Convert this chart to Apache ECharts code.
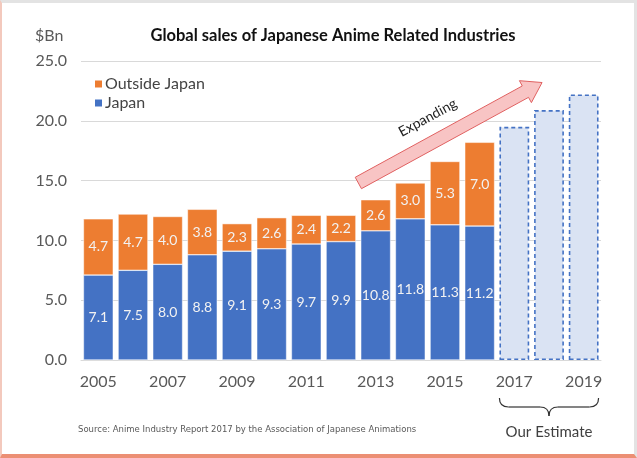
<!DOCTYPE html>
<html><head><meta charset="utf-8">
<script src="https://cdn.jsdelivr.net/npm/echarts@6/dist/echarts.min.js"></script>
<style>
html,body{margin:0;padding:0;background:#fff;}
#wrap{position:relative;width:637px;height:458px;}
#chart{position:absolute;left:0;top:0;width:637px;height:458px;}
#frame{position:absolute;left:0;top:0;width:637px;height:458px;box-sizing:border-box;pointer-events:none;
border-top:3px solid #e3e3e3;border-right:3px solid #e3e3e3;border-left:2px solid #f3c9bd;border-bottom:4px solid #ec8f74;}
</style></head>
<body><div id="wrap"><div id="chart"></div><div id="frame"></div></div>
<script>
var years = ['2005','2006','2007','2008','2009','2010','2011','2012','2013','2014','2015','2016','2017','2018','2019'];
var japan = [7.1, 7.5, 8.0, 8.8, 9.1, 9.3, 9.7, 9.9, 10.8, 11.8, 11.3, 11.2, null, null, null];
var outside = [4.7, 4.7, 4.0, 3.8, 2.3, 2.6, 2.4, 2.2, 2.6, 3.0, 5.3, 7.0, null, null, null];
var estimate = [null, null, null, null, null, null, null, null, null, null, null, null, 19.5, 20.9, 22.2];
var yTicks = [0, 5, 10, 15, 20, 25];
// arrow annotation in data coordinates: [category index, value]
var arrowFrom = [7.5, 14.8];
var arrowTo = [12.8, 23.2];

var FONT = 'Lato, "Open Sans", sans-serif';
var chart = echarts.init(document.getElementById('chart'));
var lbl = {show:true, position:'inside', color:'#f2f2f2', fontSize:14, fontFamily:FONT,
  formatter:function(p){return p.value==null?'':p.value.toFixed(1);}};
chart.setOption({
  animation:false,
  title:{text:'Global sales of Japanese Anime Related Industries', left:328, textAlign:'center', top:22,
    textStyle:{fontFamily:FONT, fontWeight:'bold', fontSize:16.5, color:'#111'}},
  legend:{left:88, top:71, orient:'vertical', itemGap:3, itemWidth:9, itemHeight:9, icon:'rect',
    data:['Outside Japan','Japan'], textStyle:{fontFamily:FONT, fontSize:16, color:'#444', padding:[0,0,0,-3]}},
  grid:{left:81, right:36, top:61, bottom:98},
  xAxis:{type:'category', data:years,
    axisLine:{lineStyle:{color:'#d9d9d9'}}, axisTick:{show:false},
    axisLabel:{interval:1, color:'#595959', fontSize:16, fontFamily:FONT, margin:14}},
  yAxis:{type:'value', min:yTicks[0], max:yTicks[yTicks.length-1], interval:5,
    axisLabel:{color:'#595959', fontSize:16, fontFamily:FONT, margin:14, formatter:function(v){return v.toFixed(1);}},
    splitLine:{lineStyle:{color:'#d9d9d9'}}},
  series:[
    {name:'Japan', type:'bar', stack:'t', data:japan, barCategoryGap:'14%',
      itemStyle:{color:'#4472c4', borderColor:'#fff', borderWidth:0.5}, label:lbl},
    {name:'Outside Japan', type:'bar', stack:'t', data:outside,
      itemStyle:{color:'#ed7d31', borderColor:'#fff', borderWidth:0.5}, label:lbl},
    {name:'Estimate', type:'bar', stack:'t', data:estimate,
      itemStyle:{color:'#dae3f3', borderColor:'#4472c4', borderWidth:1.6, borderType:[4,3]}}
  ]
});

function px(pt){
  var a = chart.convertToPixel({xAxisIndex:0}, 0);
  var b = chart.convertToPixel({xAxisIndex:0}, 1);
  var y = chart.convertToPixel({yAxisIndex:0}, pt[1]);
  return [a + (b-a)*pt[0], y];
}
var p0 = px(arrowFrom), p1 = px(arrowTo);
var dx = p1[0]-p0[0], dy = p1[1]-p0[1], L = Math.sqrt(dx*dx+dy*dy);
var ux = dx/L, uy = dy/L, nx = -uy, ny = ux;
var sw = 6.5, hw = 12.5, hl = 19;
function P(t, n){return [p0[0]+ux*t+nx*n, p0[1]+uy*t+ny*n];}
var arrowPts = [P(0,-sw), P(L-hl,-sw), P(L-hl,-hw), P(L,0), P(L-hl,hw), P(L-hl,sw), P(0,sw)];
var ang = Math.atan2(-dy, dx);
var mid = P(L*0.44, -24);

var c0 = chart.convertToPixel({xAxisIndex:0}, 12), c1 = chart.convertToPixel({xAxisIndex:0}, 13), c2 = chart.convertToPixel({xAxisIndex:0}, 14);
var half = (c1-c0)/2*0.86;
var bl = c0-half, br = c2+half, bm = (bl+br)/2, by = 398, r = 9;
var bs = {fill:null, stroke:'#333', lineWidth:1.2};
var braceParts = [
  {type:'bezierCurve', shape:{x1:bl, y1:by, x2:bl+r, y2:by+r, cpx1:bl, cpy1:by+r}, style:bs, z:100},
  {type:'line', shape:{x1:bl+r, y1:by+r, x2:bm-r, y2:by+r}, style:bs, z:100},
  {type:'bezierCurve', shape:{x1:bm-r, y1:by+r, x2:bm, y2:by+2*r, cpx1:bm, cpy1:by+r}, style:bs, z:100},
  {type:'bezierCurve', shape:{x1:bm, y1:by+2*r, x2:bm+r, y2:by+r, cpx1:bm, cpy1:by+r}, style:bs, z:100},
  {type:'line', shape:{x1:bm+r, y1:by+r, x2:br-r, y2:by+r}, style:bs, z:100},
  {type:'bezierCurve', shape:{x1:br-r, y1:by+r, x2:br, y2:by, cpx1:br, cpy1:by+r}, style:bs, z:100}
];

chart.setOption({graphic:[
  {type:'polygon', shape:{points:arrowPts}, style:{fill:'#f8c4c4', stroke:'#e06060', lineWidth:1}, z:100},
  {type:'text', x:mid[0], y:mid[1], rotation:ang, style:{text:'Expanding', fill:'#222', font:'14px '+FONT, align:'center', verticalAlign:'middle'}, z:101},
  {type:'text', x:35, y:36, style:{text:'$Bn', fill:'#595959', font:'16px '+FONT, verticalAlign:'middle'}, z:100},
  {type:'text', x:bm, y:432, style:{text:'Our Estimate', fill:'#404040', font:'15px '+FONT, align:'center', verticalAlign:'middle'}, z:100},
  {type:'text', x:78, y:430, style:{text:'Source: Anime Industry Report 2017 by the Association of Japanese Animations', fill:'#595959', font:'8.5px "DejaVu Sans", sans-serif', verticalAlign:'middle'}, z:100}
].concat(braceParts)});
</script></body></html>
